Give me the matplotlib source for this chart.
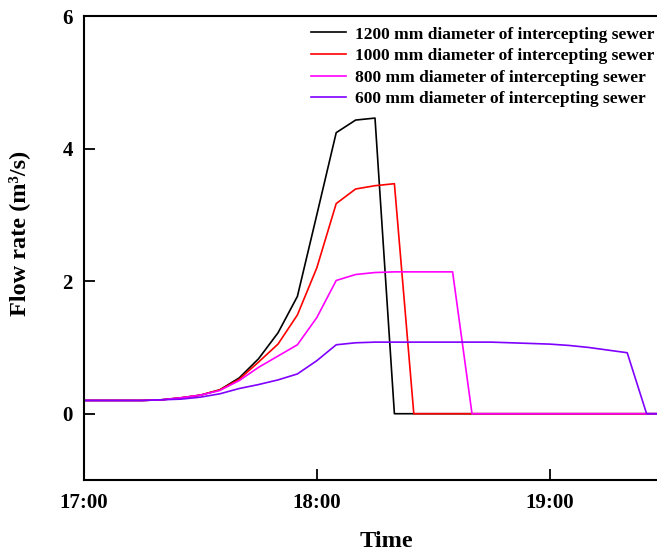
import matplotlib
matplotlib.use("Agg")
import matplotlib.pyplot as plt

# minutes after 17:00
minutes = list(range(0, 155, 5))

flow_1200 = [0.20, 0.20, 0.20, 0.20, 0.21, 0.24, 0.28, 0.36, 0.54, 0.83, 1.22, 1.77,
             3.00, 4.24, 4.43, 4.46, 0.0, 0.0, 0.0, 0.0, 0.0, 0.0, 0.0, 0.0, 0.0,
             0.0, 0.0, 0.0, 0.0, 0.0, 0.0]
flow_1000 = [0.20, 0.20, 0.20, 0.20, 0.21, 0.24, 0.28, 0.36, 0.52, 0.78, 1.05, 1.49,
             2.20, 3.17, 3.39, 3.44, 3.47, 0.0, 0.0, 0.0, 0.0, 0.0, 0.0, 0.0, 0.0,
             0.0, 0.0, 0.0, 0.0, 0.0, 0.0]
flow_800 = [0.20, 0.20, 0.20, 0.20, 0.21, 0.24, 0.28, 0.35, 0.50, 0.70, 0.87, 1.04,
            1.45, 2.01, 2.10, 2.13, 2.14, 2.14, 2.14, 2.14, 0.0, 0.0, 0.0, 0.0, 0.0,
            0.0, 0.0, 0.0, 0.0, 0.0, 0.0]
flow_600 = [0.20, 0.20, 0.20, 0.20, 0.21, 0.22, 0.25, 0.30, 0.38, 0.44, 0.51, 0.60,
            0.80, 1.04, 1.07, 1.08, 1.08, 1.08, 1.08, 1.08, 1.08, 1.08, 1.07, 1.06,
            1.05, 1.03, 1.00, 0.96, 0.92, 0.0, 0.0]

labels = ["1200 mm diameter of intercepting sewer",
          "1000 mm diameter of intercepting sewer",
          "800 mm diameter of intercepting sewer",
          "600 mm diameter of intercepting sewer"]
colors = ["#000000", "#ff0000", "#ff00ff", "#7f00ff"]
series = [flow_1200, flow_1000, flow_800, flow_600]

xtick_pos = [0, 60, 120]
xtick_labels = ["17:00", "18:00", "19:00"]
ytick_pos = [0, 2, 4, 6]

plt.rcParams['font.family'] = ['Liberation Serif', 'DejaVu Serif']
plt.rcParams['font.weight'] = 'bold'

fig = plt.figure(figsize=(6.57, 5.55), dpi=100)
ax = fig.add_axes([84/657, 75/555, (666-84)/657, 464/555])

for y, c, lab in zip(series, colors, labels):
    ax.plot(minutes, y, color=c, lw=1.2, label=lab)

ax.set_xlim(0, 150)
ax.set_ylim(-1, 6)
ax.set_xticks(xtick_pos)
ax.set_xticklabels(xtick_labels)
ax.set_yticks(ytick_pos)
ax.tick_params(direction='in', length=8, width=1.3, labelsize=15)
ax.tick_params(axis='x', pad=9)
ax.tick_params(axis='y', pad=8)
for lbl in ax.get_xticklabels() + ax.get_yticklabels():
    lbl.set_fontweight('bold')
for s in ax.spines.values():
    s.set_linewidth(1.5)

ax.set_xlabel("Time", fontsize=17.5, fontweight='bold')
ax.xaxis.set_label_coords((386-84)/(666-84), -(531-480)/464)
ax.set_ylabel("Flow rate (m\u00b3/s)", fontsize=17.5, fontweight='bold')
ax.yaxis.set_label_coords(-(84-30)/(666-84), (480-233)/464)

leg = ax.legend(loc='upper left', bbox_to_anchor=(0.372, 1.0), frameon=False,
                prop={'size': 12.5, 'weight': 'bold'}, handlelength=2.0,
                handletextpad=0.55, labelspacing=0.31, borderaxespad=0.2)

fig.savefig("out.png", dpi=100)
